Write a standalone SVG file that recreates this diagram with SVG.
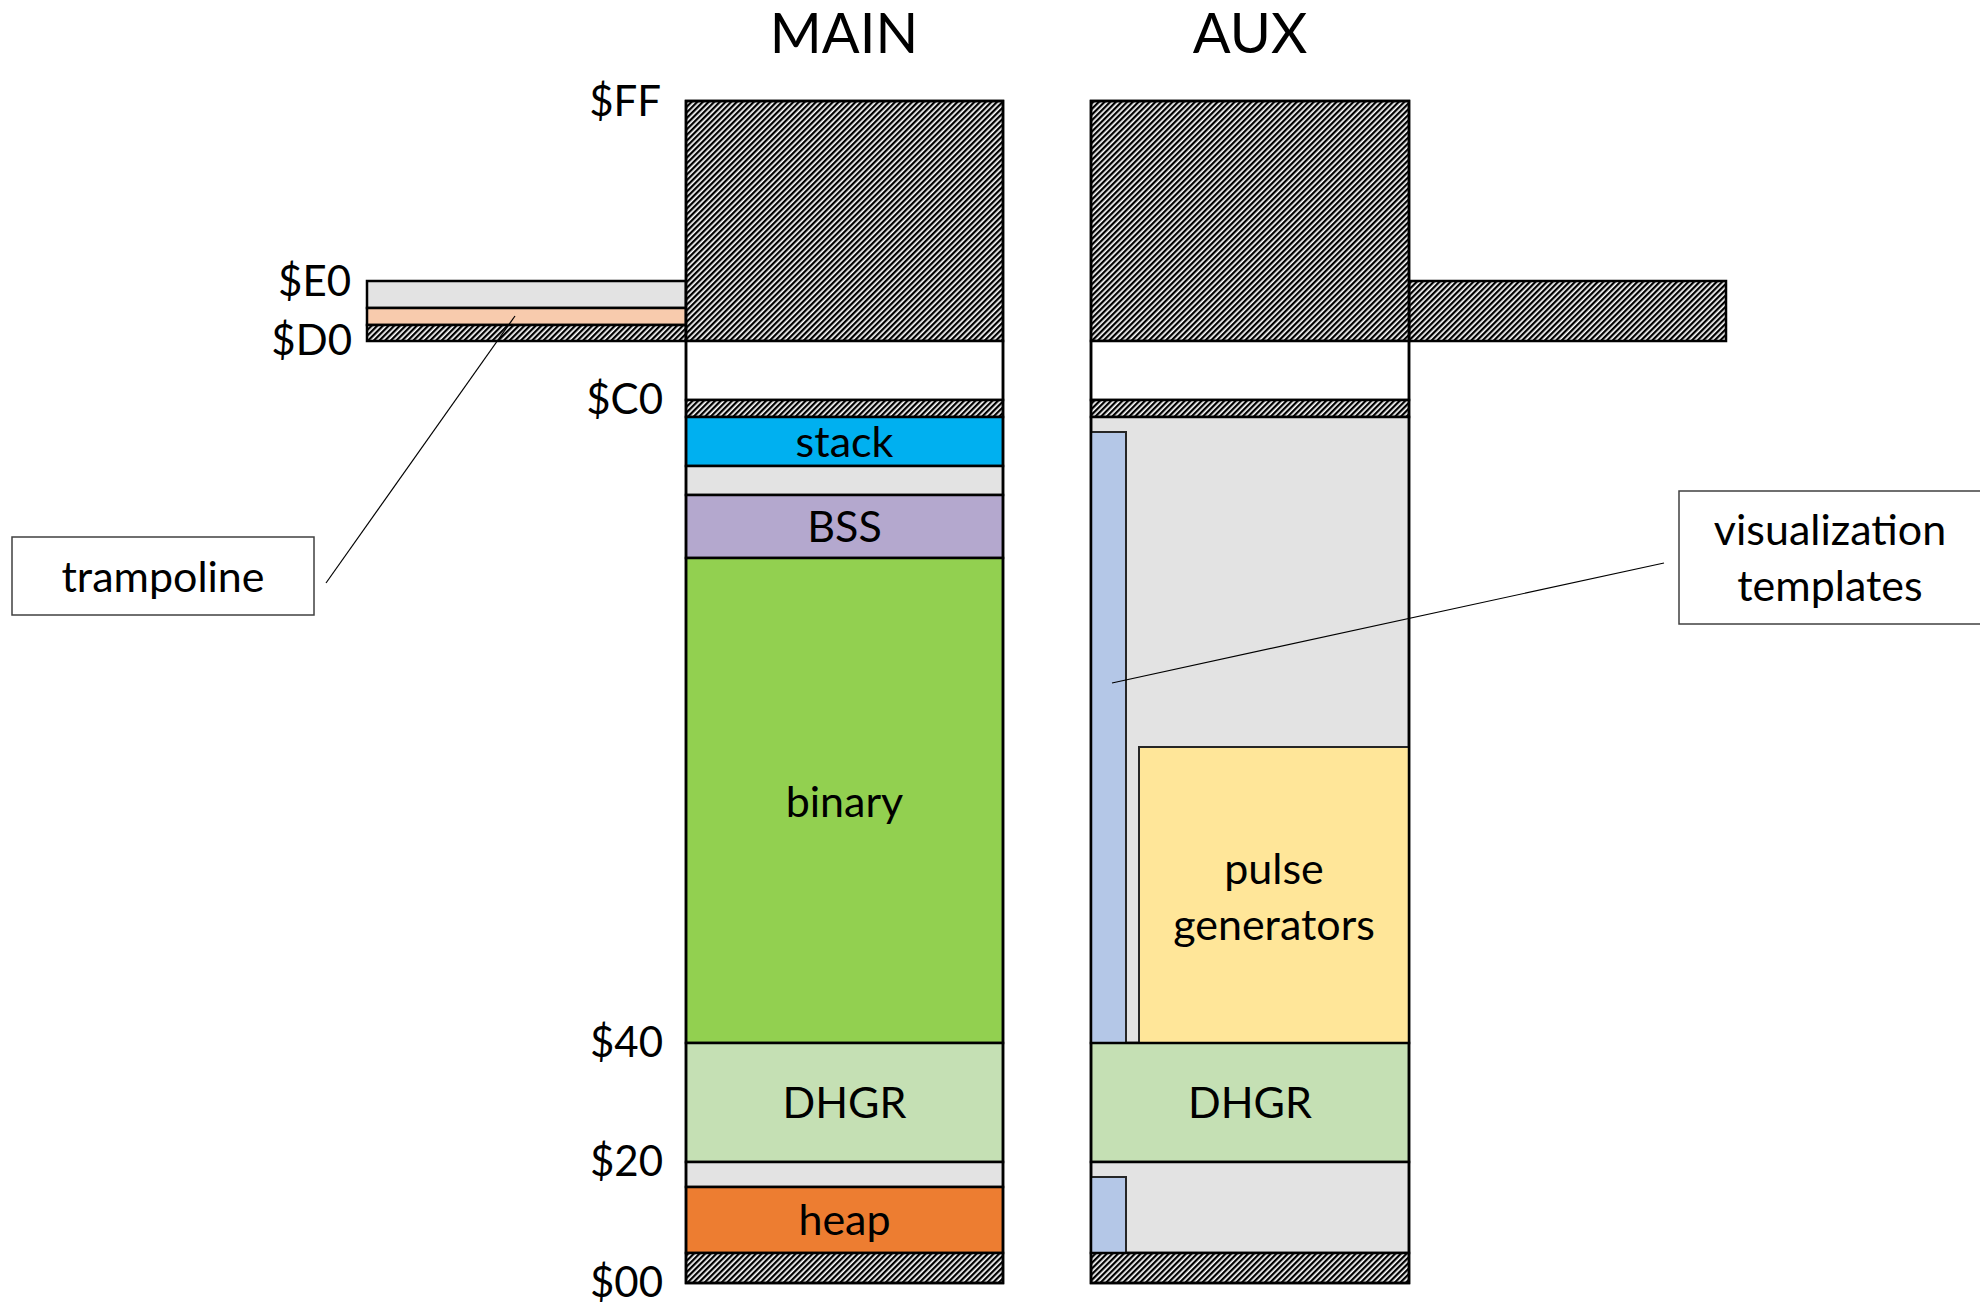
<svg xmlns="http://www.w3.org/2000/svg" width="1980" height="1307" viewBox="0 0 1980 1307">
  <style>
    .cell { stroke: #000; stroke-width: 2.5; }
    .hatch { fill: url(#hatch); }
    .gray { fill: #E3E3E3; }
    .white { fill: #FFFFFF; }
    .inner { stroke: #262626; stroke-width: 2; }
    .callout { fill: #FFFFFF; stroke: #404040; stroke-width: 1.5; }
    .lead { stroke: #000; stroke-width: 1.2; fill: none; }
    text { font-family: Lato, Carlito, "Liberation Sans", sans-serif; fill: #000; }
    .lbl { font-size: 43px; text-anchor: middle; }
    .addr { font-size: 42px; text-anchor: end; }
    .title { font-size: 56px; text-anchor: middle; }
  </style>
  <defs>
    <pattern id="hatch" width="4" height="10" patternUnits="userSpaceOnUse" patternTransform="rotate(45)">
      <rect width="4" height="10" fill="#FFFFFF"/>
      <rect width="2.3" height="10" fill="#000000"/>
    </pattern>
  </defs>

  <rect width="1980" height="1307" fill="#FFFFFF"/>

  <!-- column headings -->
  <g id="title-main"><text class="title" x="844" y="53">MAIN</text></g>
  <g id="title-aux"><text class="title" x="1250" y="53">AUX</text></g>

  <!-- address scale -->
  <g id="addresses">
    <text class="addr" x="661" y="116">$FF</text>
    <text class="addr" x="351" y="296">$E0</text>
    <text class="addr" x="352" y="355">$D0</text>
    <text class="addr" x="663" y="414">$C0</text>
    <text class="addr" x="663" y="1057">$40</text>
    <text class="addr" x="663" y="1176">$20</text>
    <text class="addr" x="663" y="1297">$00</text>
  </g>

  <!-- main bank side bar ($D0-$E0) -->
  <g id="main-langcard">
    <rect class="cell gray" x="367" y="281" width="319" height="27"/>
    <rect class="cell" x="367" y="308" width="319" height="17" fill="#F8CBAD"/>
    <rect class="cell hatch" x="367" y="325" width="319" height="16"/>
  </g>

  <!-- main bank column -->
  <g id="main-rom"><rect class="cell hatch" x="686" y="101" width="317" height="240"/></g>
  <g id="main-io"><rect class="cell white" x="686" y="341" width="317" height="59"/></g>
  <g id="main-reserved-hi"><rect class="cell hatch" x="686" y="400" width="317" height="17"/></g>
  <g id="main-stack">
    <rect class="cell" x="686" y="417" width="317" height="49" fill="#00B0F0"/>
    <text class="lbl" x="844.5" y="457">stack</text>
  </g>
  <g id="main-free-1"><rect class="cell gray" x="686" y="466" width="317" height="29"/></g>
  <g id="main-bss">
    <rect class="cell" x="686" y="495" width="317" height="63" fill="#B4A8CE"/>
    <text class="lbl" x="844.5" y="542">BSS</text>
  </g>
  <g id="main-binary">
    <rect class="cell" x="686" y="558" width="317" height="485" fill="#92D050"/>
    <text class="lbl" x="844.5" y="817">binary</text>
  </g>
  <g id="main-dhgr">
    <rect class="cell" x="686" y="1043" width="317" height="119" fill="#C5E0B4"/>
    <text class="lbl" x="844.5" y="1118">DHGR</text>
  </g>
  <g id="main-free-2"><rect class="cell gray" x="686" y="1162" width="317" height="25"/></g>
  <g id="main-heap">
    <rect class="cell" x="686" y="1187" width="317" height="66" fill="#ED7D31"/>
    <text class="lbl" x="844.5" y="1235">heap</text>
  </g>
  <g id="main-zp"><rect class="cell hatch" x="686" y="1253" width="317" height="30"/></g>

  <!-- aux bank column -->
  <g id="aux-rom">
    <rect class="cell hatch" x="1409" y="281" width="317" height="60"/>
    <rect class="cell hatch" x="1091" y="101" width="318" height="240"/>
  </g>
  <g id="aux-io"><rect class="cell white" x="1091" y="341" width="318" height="59"/></g>
  <g id="aux-reserved-hi"><rect class="cell hatch" x="1091" y="400" width="318" height="17"/></g>
  <g id="aux-free-1"><rect class="cell gray" x="1091" y="417" width="318" height="626"/></g>
  <g id="aux-templates-hi"><rect class="inner" x="1091" y="432" width="35" height="611" fill="#B4C7E7"/></g>
  <g id="aux-pulse">
    <rect class="inner" x="1139" y="747" width="270" height="296" fill="#FFE699"/>
    <text class="lbl" x="1274" y="884">pulse</text>
    <text class="lbl" x="1274" y="940">generators</text>
  </g>
  <g id="aux-dhgr">
    <rect class="cell" x="1091" y="1043" width="318" height="119" fill="#C5E0B4"/>
    <text class="lbl" x="1250" y="1118">DHGR</text>
  </g>
  <g id="aux-free-2"><rect class="cell gray" x="1091" y="1162" width="318" height="91"/></g>
  <g id="aux-templates-lo"><rect class="inner" x="1091" y="1177" width="35" height="76" fill="#B4C7E7"/></g>
  <g id="aux-zp"><rect class="cell hatch" x="1091" y="1253" width="318" height="30"/></g>
  <!-- column outlines drawn last so the edges stay continuous -->
  <g id="outlines" fill="none" stroke="#000" stroke-width="2.5">
    <rect x="686" y="101" width="317" height="1182"/>
    <rect x="1091" y="101" width="318" height="1182"/>
  </g>

  <!-- callouts -->
  <g id="callout-trampoline">
    <rect class="callout" x="12" y="537" width="302" height="78"/>
    <text class="lbl" x="163" y="592">trampoline</text>
  </g>
  <g id="callout-templates">
    <rect class="callout" x="1679" y="491" width="320" height="133"/>
    <text class="lbl" x="1830" y="545">visualization</text>
    <text class="lbl" x="1830" y="601">templates</text>
  </g>

  <!-- leader lines -->
  <g id="connectors">
    <line class="lead" x1="326" y1="583" x2="515" y2="316"/>
    <line class="lead" x1="1112" y1="683" x2="1664" y2="563"/>
  </g>
</svg>
